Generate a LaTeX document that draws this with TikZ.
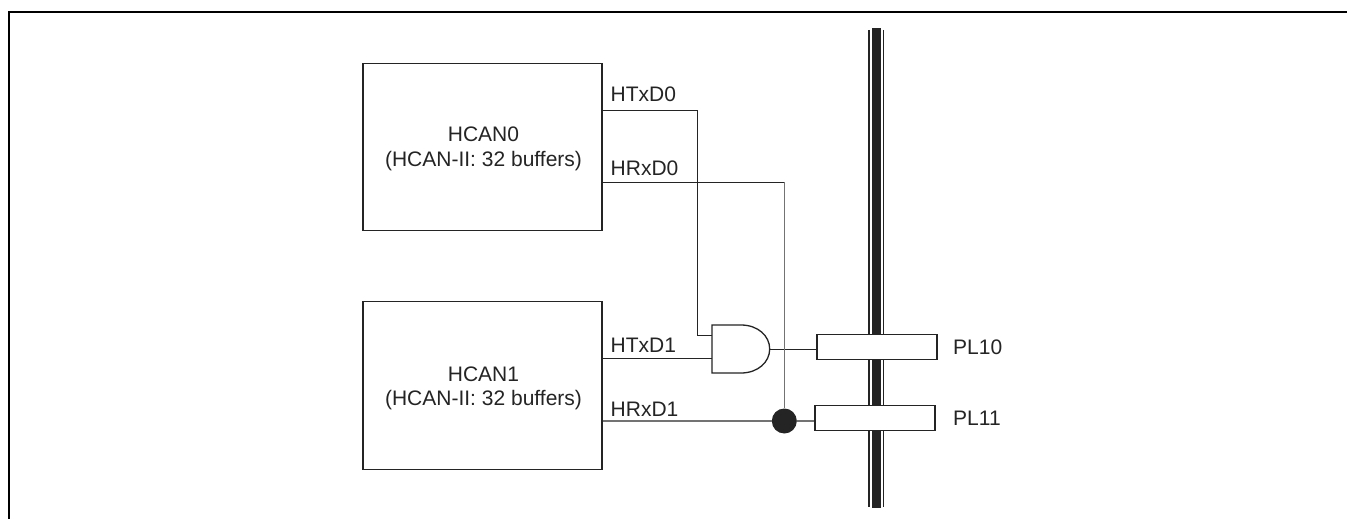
\documentclass[tikz,border=0pt]{standalone}
\usepackage{fontspec}
\setmainfont{Liberation Sans}
\definecolor{ink}{gray}{0.14}
\tikzset{
  px/.style={x=1pt,y=-1pt},
  frameline/.style={line width=2.2pt,black},
  block/.style={draw=ink,line width=1.3pt,fill=white,inner sep=0pt,minimum width=239pt,minimum height=167.5pt},
  blocktext/.style={align=center,anchor=base,inner sep=0pt,font=\fontsize{21}{25}\selectfont,text=ink},
  pinbox/.style={draw=ink,line width=1.3pt,fill=white,inner sep=0pt,minimum width=120pt,minimum height=24.5pt},
  wire/.style={draw=ink,line width=0.9pt},
  graywire/.style={draw=black!55,line width=1.2pt},
  sig/.style={anchor=base west,font=\fontsize{21}{25}\selectfont,inner sep=0pt,text=ink},
  gateline/.style={draw=ink,line width=1.3pt,fill=white},
  joint/.style={circle,fill=ink,inner sep=0pt,minimum size=25pt},
}
\begin{document}
\begin{tikzpicture}[px]
\useasboundingbox (0,0) rectangle (1347,519);
\draw[frameline] (8.8,519) -- (8.8,12) -- (1347,12);
% bus
\fill[ink] (872.3,28) rectangle (881,508);
\draw[line width=1.1pt,ink] (869,30) -- (869,507);
\draw[line width=1.1pt,ink] (883.5,30) -- (883.5,507);
% blocks
\node[block] (hcan0) at (482.5,147) {};
\node[block] (hcan1) at (482.5,385.5) {};
\node[blocktext] (hcan0a) at (483.5,141.7) {HCAN0};
\node[blocktext] (hcan0b) at (483.5,166.7) {(HCAN-II: 32 buffers)};
\node[blocktext] (hcan1a) at (483.5,381) {HCAN1};
\node[blocktext] (hcan1b) at (483.5,405.7) {(HCAN-II: 32 buffers)};
% pins
\node[pinbox] (pl10) at (877,347) {};
\node[pinbox] (pl11) at (875,418) {};
% port points
\coordinate (t0) at (hcan0.east |- 0,110.7);
\coordinate (r0) at (hcan0.east |- 0,182);
\coordinate (t1) at (hcan1.east |- 0,358.3);
\coordinate (r1) at (hcan1.east |- 0,421);
\coordinate (gA) at (712,335.7);
\coordinate (gB) at (712,358.3);
\coordinate (gOut) at (769.7,349);
\coordinate (p10) at (pl10.west |- gOut);
\coordinate (p11) at (pl11.west |- r1);
\coordinate (r0bend) at (784.3,182);
\node[joint] (dot) at (784.3,421) {};
% wires
\draw[wire] (t0) -| (697.7,335.7) -- (gA);
\draw[wire] (t1) -- (gB);
\draw[wire] (gOut) -- (p10);
\draw[wire] (r0) -- (r0bend);
\draw[graywire] (r0bend) -- (dot.north);
\draw[graywire] (r1) -- (dot.west);
\draw[graywire] (dot.east) -- (p11);
% AND gate
\draw[gateline] (712,325) -- (741,325) .. controls (758,325) and (769.7,336) .. (gOut)
   .. controls (769.7,362) and (758,373) .. (741,373) -- (712,373) -- cycle;
% labels
\node[sig] (lt0) at (610.5,101) {HTxD0};
\node[sig] (lr0) at (610.5,175) {HRxD0};
\node[sig] (lt1) at (610.5,352.7) {HTxD1};
\node[sig] (lr1) at (610.5,416.7) {HRxD1};
\node[sig] (l10) at (953,354.3) {PL10};
\node[sig] (l11) at (953,425.3) {PL11};
\end{tikzpicture}
\end{document}
